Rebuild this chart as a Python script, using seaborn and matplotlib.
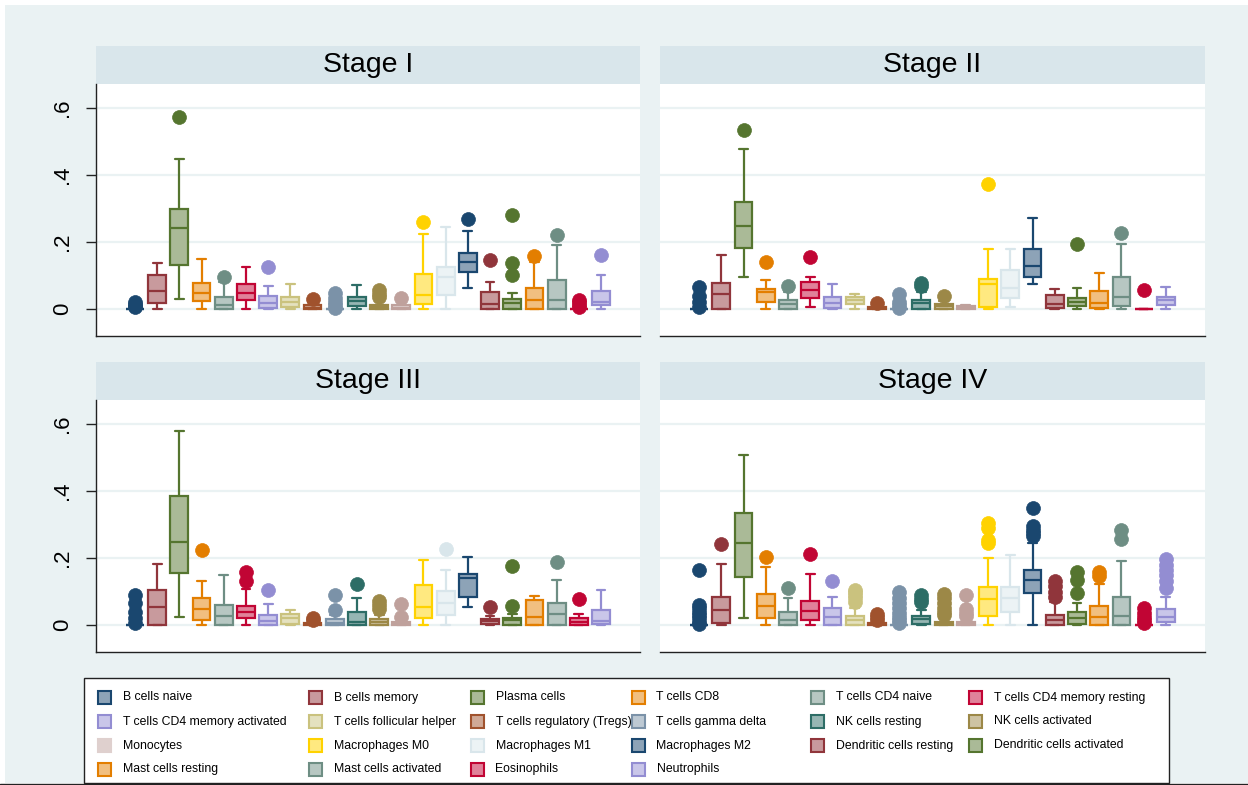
import numpy as np
import pandas as pd
import matplotlib
matplotlib.use("Agg")
import matplotlib.pyplot as plt
import seaborn as sns
from matplotlib.patches import Rectangle
from matplotlib.lines import Line2D

# ---------------------------------------------------------------- categories
cells = [
    "B cells naive", "B cells memory", "Plasma cells", "T cells CD8",
    "T cells CD4 naive", "T cells CD4 memory resting",
    "T cells CD4 memory activated", "T cells follicular helper",
    "T cells regulatory (Tregs)", "T cells gamma delta", "NK cells resting",
    "NK cells activated", "Monocytes", "Macrophages M0", "Macrophages M1",
    "Macrophages M2", "Dendritic cells resting", "Dendritic cells activated",
    "Mast cells resting", "Mast cells activated", "Eosinophils", "Neutrophils",
]
colors = [
    "#1a476f", "#90353b", "#55752f", "#e37e00", "#6e8e84", "#c10534",
    "#938dd2", "#cac27e", "#a0522d", "#7b92a8", "#2d6d66", "#9c8847",
    "#bfa19c", "#ffd200", "#d9e6eb", "#1a476f", "#90353b", "#55752f",
    "#e37e00", "#6e8e84", "#c10534", "#938dd2",
]
stages = ["Stage I", "Stage II", "Stage III", "Stage IV"]

# ------------------------------------------- box summaries, Stage I
s1_lower = [0, 0, .031, 0, 0, 0, 0, 0, 0, 0, 0, 0, 0, 0, 0, .062, 0, 0, 0, 0, 0, 0]
s1_q1 = [0, .017, .131, .024, 0, .027, .002, .007, 0, 0, .009, 0, 0, .015, .042, .110, 0, 0, 0, 0, 0, .012]
s1_median = [0, .054, .242, .048, .012, .047, .017, .022, .004, 0, .024, .005, .004, .042, .097, .139, .015, .017, .027, .027, 0, .022]
s1_q3 = [0, .101, .299, .077, .037, .076, .040, .037, .011, 0, .037, .012, .012, .105, .126, .166, .050, .030, .062, .087, 0, .055]
s1_upper = [0, .138, .448, .150, .080, .124, .069, .075, .020, 0, .072, .025, .020, .224, .245, .234, .080, .047, .141, .191, 0, .101]
s1_outliers = [[.005, .01, .015, .022], [], [.572], [], [.095], [], [.124], [], [.030],
               [.004, .012, .022, .034, .048], [], [.035, .045, .057], [.032], [.259], [],
               [.269], [.147], [.101, .136, .282], [.158], [.220], [.005, .012, .02, .028], [.161]]

# ------------------------------------------- box summaries, Stage II
s2_lower = [0, 0, .097, 0, 0, .007, 0, 0, 0, 0, 0, 0, 0, 0, .007, .074, 0, 0, 0, 0, 0, 0]
s2_q1 = [0, 0, .183, .021, 0, .032, .002, .015, 0, 0, 0, 0, 0, .007, .034, .097, .002, .009, .002, .010, 0, .012]
s2_median = [0, .044, .248, .050, .015, .057, .017, .027, .002, 0, .017, .009, .005, .075, .062, .128, .015, .020, .017, .035, 0, .027]
s2_q3 = [0, .077, .320, .059, .027, .080, .035, .037, .005, 0, .027, .015, .010, .090, .116, .179, .041, .034, .054, .095, 0, .037]
s2_upper = [0, .160, .479, .086, .050, .097, .074, .046, .010, 0, .050, .025, .012, .179, .179, .273, .060, .064, .106, .194, 0, .065]
s2_outliers = [[.005, .02, .04, .065], [], [.535], [.141], [.070], [.156], [], [], [.018],
               [.003, .012, .022, .045], [.070, .079], [.040], [], [.373], [], [], [],
               [.195], [], [.227], [.058], []]

# ------------------------------------------- box summaries, Stage III
s3_lower = [0, 0, .023, 0, 0, 0, 0, 0, 0, 0, 0, 0, 0, 0, 0, .055, 0, 0, 0, 0, 0, 0]
s3_q1 = [0, 0, .155, .015, 0, .020, 0, .003, 0, 0, 0, 0, 0, .022, .030, .085, .003, 0, 0, 0, 0, .003]
s3_median = [0, .053, .248, .048, .028, .038, .012, .020, .002, .007, .010, .008, .003, .055, .065, .140, .013, .015, .023, .033, .008, .013]
s3_q3 = [0, .103, .385, .081, .061, .058, .030, .033, .005, .017, .038, .017, .008, .120, .102, .153, .018, .022, .075, .065, .020, .045]
s3_upper = [0, .183, .579, .132, .150, .107, .063, .045, .010, .030, .082, .030, .015, .195, .165, .203, .027, .033, .088, .133, .032, .105]
s3_outliers = [[.005, .02, .04, .065, .09], [], [], [.225], [], [.130, .157], [.105], [],
               [.015, .022], [.045, .090], [.122], [.048, .060, .072], [.025, .062], [],
               [.227], [], [.053], [.058, .177], [], [.187], [.077], []]

# ------------------------------------------- box summaries, Stage IV
s4_lower = [0, 0, .022, 0, 0, 0, 0, 0, 0, 0, 0, 0, 0, 0, 0, 0, 0, 0, 0, 0, 0, 0]
s4_q1 = [0, .005, .143, .022, 0, .016, 0, 0, 0, 0, .003, 0, 0, .027, .040, .097, 0, .003, 0, 0, 0, .010]
s4_median = [0, .045, .245, .057, .014, .042, .024, .016, .002, 0, .017, .003, .004, .077, .080, .135, .015, .022, .023, .027, 0, .023]
s4_q3 = [0, .083, .335, .093, .039, .073, .051, .027, .005, 0, .028, .010, .010, .113, .113, .163, .030, .038, .057, .083, 0, .047]
s4_upper = [0, .183, .506, .172, .080, .152, .084, .050, .010, 0, .044, .020, .020, .200, .210, .245, .070, .067, .122, .190, 0, .085]
s4_outliers = [[.003, .01, .02, .03, .04, .05, .06, .163], [.242], [], [.203], [.110], [.213],
               [.132], [.07, .08, .09, .10, .105], [.015, .025, .033],
               [.005, .015, .025, .035, .05, .065, .08, .1], [.068, .078, .09],
               [.03, .04, .05, .065, .08, .092], [.028, .035, .048, .09],
               [.245, .255, .29, .303], [], [.265, .275, .285, .295, .35],
               [.085, .10, .115, .13], [.095, .135, .158], [.145, .158], [.258, .283],
               [.005, .015, .025, .035, .05], [.11, .13, .15, .165, .18, .198]]

summaries = {
    "Stage I": (s1_lower, s1_q1, s1_median, s1_q3, s1_upper, s1_outliers),
    "Stage II": (s2_lower, s2_q1, s2_median, s2_q3, s2_upper, s2_outliers),
    "Stage III": (s3_lower, s3_q1, s3_median, s3_q3, s3_upper, s3_outliers),
    "Stage IV": (s4_lower, s4_q1, s4_median, s4_q3, s4_upper, s4_outliers),
}


def sample_from_summary(lo, q1, med, q3, hi, extra, block=20):
    """Observations whose quartiles, adjacent values and outliers equal the summary."""
    return [lo] + [q1] * block + [med] * block + [q3] * block + [hi] + list(extra)


rows = []
for stage, (lo, q1, md, q3, hi, out) in summaries.items():
    for k, cell in enumerate(cells):
        for v in sample_from_summary(lo[k], q1[k], md[k], q3[k], hi[k], out[k]):
            rows.append((stage, cell, v))
df = pd.DataFrame(rows, columns=["stage", "cell", "fraction"])


def lighten(hex_color, amount=0.5):
    rgb = np.array(matplotlib.colors.to_rgb(hex_color))
    return tuple(rgb + (1 - rgb) * amount)


fills = [lighten(c) for c in colors]

# ---------------------------------------------------------------- styling
sns.set_style("white")
plt.rcParams["font.family"] = ["Liberation Sans", "DejaVu Sans"]

W, H = 1248, 785
OUTER = "#eaf2f3"
STRIP = "#d9e6eb"
GRID = "#eaf2f3"
INK = "#222222"


def fx(px):
    return px / W


def fy(py):
    return 1 - py / H


fig = plt.figure(figsize=(W / 100, H / 100), dpi=100)
fig.patch.set_facecolor("white")
fig.add_artist(Rectangle((fx(5), fy(783)), fx(1248) - fx(5), fy(5) - fy(783),
                         transform=fig.transFigure, facecolor=OUTER,
                         edgecolor="none", zorder=-10))

panels = {
    "Stage I": (96, 640, 84, 336),
    "Stage II": (660, 1205, 84, 336),
    "Stage III": (96, 640, 400, 652),
    "Stage IV": (660, 1205, 400, 652),
}
strip_h = 38
ylo, yhi = -27 / 335, 225 / 335

for stage, (l, r, t, b) in panels.items():
    ax = fig.add_axes([fx(l), fy(b), (r - l) / W, (b - t) / H])
    ax.set_facecolor("white")
    sub = df[df["stage"] == stage]
    for k, cell in enumerate(cells):
        sns.boxplot(
            data=sub[sub["cell"] == cell], x="cell", y="fraction", order=cells,
            ax=ax, color=fills[k], linecolor=colors[k], saturation=1,
            width=0.8, linewidth=1.6, whis=1.5,
            flierprops=dict(marker="o", markersize=10, markerfacecolor=colors[k],
                            markeredgecolor=colors[k], markeredgewidth=0.5),
            medianprops=dict(color=colors[k], linewidth=1.6),
        )
    ax.set_xlim(-1.757, 22.757)
    ax.set_ylim(ylo, yhi)
    ax.set_xlabel("")
    ax.set_ylabel("")
    ax.set_yticks([0, .2, .4, .6])
    ax.yaxis.grid(True, color=GRID, linewidth=1.6)
    ax.xaxis.grid(False)
    ax.set_axisbelow(True)
    ax.tick_params(axis="x", bottom=False, labelbottom=False)
    for side in ("top", "right"):
        ax.spines[side].set_visible(False)
    ax.spines["bottom"].set_color(INK)
    ax.spines["bottom"].set_linewidth(1.0)
    if l < 300:
        ax.spines["left"].set_color(INK)
        ax.spines["left"].set_linewidth(1.0)
        ax.set_yticklabels(["0", ".2", ".4", ".6"], rotation=90, va="center")
        ax.tick_params(axis="y", left=True, length=7.2, width=1.0, color=INK,
                       pad=9, labelsize=16, labelcolor="black")
    else:
        ax.spines["left"].set_visible(False)
        ax.tick_params(axis="y", left=False, labelleft=False)

    # title strip
    fig.add_artist(Rectangle((fx(l), fy(t)), (r - l) / W, strip_h / H,
                             transform=fig.transFigure, facecolor=STRIP,
                             edgecolor="none", zorder=-5))
    fig.text(fx((l + r) / 2), fy(t - 12.5), stage, ha="center", va="baseline",
             fontsize=20.5, color="black")

# ---------------------------------------------------------------- legend
fig.add_artist(Rectangle((fx(84), fy(783)), fx(1169) - fx(84), fy(678) - fy(783),
                         transform=fig.transFigure, facecolor="white",
                         edgecolor=INK, linewidth=1.0, zorder=1))
fig.add_artist(Line2D([0, 1], [fy(783.5), fy(783.5)], transform=fig.transFigure,
                      color=INK, linewidth=1.0, zorder=2))

col_x = [104.5, 315.5, 477, 638, 817, 975.5]
row_y = [697.5, 721.5, 745.5, 769.0]
key = 13
for i, cell in enumerate(cells):
    cx, cy = col_x[i % 6], row_y[i // 6]
    edge = fills[i] if cell == "Monocytes" else colors[i]
    fig.add_artist(Rectangle((fx(cx - key / 2), fy(cy + key / 2)), key / W, key / H,
                             transform=fig.transFigure, facecolor=fills[i],
                             edgecolor=edge, linewidth=1.5, zorder=3))
    fig.text(fx(cx + 18.5), fy(cy), cell, ha="left", va="center",
             fontsize=8.8, color="black", zorder=3)

fig.savefig("out.png", dpi=100, facecolor=fig.get_facecolor())
